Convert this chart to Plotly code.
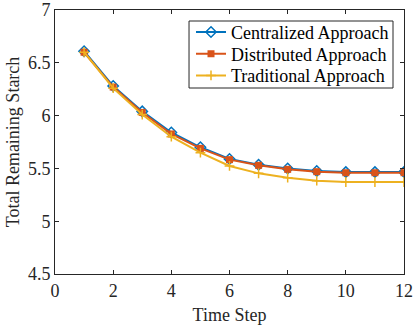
import plotly.graph_objects as go

time_step = [1, 2, 3, 4, 5, 6, 7, 8, 9, 10, 11, 12]
centralized = [6.61, 6.28, 6.04, 5.84, 5.70, 5.59, 5.535, 5.50, 5.475, 5.465, 5.465, 5.465]
distributed = [6.60, 6.27, 6.03, 5.826, 5.69, 5.583, 5.529, 5.491, 5.469, 5.459, 5.459, 5.459]
traditional = [6.60, 6.26, 6.01, 5.80, 5.649, 5.523, 5.453, 5.412, 5.384, 5.371, 5.371, 5.371]

x_ticks = [0, 2, 4, 6, 8, 10, 12]
y_ticks = [4.5, 5, 5.5, 6, 6.5, 7]
y_tick_text = ["4.5", "5", "5.5", "6", "6.5", "7"]

FONT = "Liberation Serif, Times New Roman, serif"
AXIS_COLOR = "#262626"
FS = 18

fig = go.Figure()
fig.add_trace(go.Scatter(
    x=time_step, y=centralized, name="Centralized Approach",
    mode="lines+markers", legend="legend",
    line=dict(color="#0072BD", width=2),
    marker=dict(symbol="diamond-open", size=8, color="#0072BD", line=dict(width=1.5)),
))
fig.add_trace(go.Scatter(
    x=time_step, y=distributed, name="Distributed Approach",
    mode="lines+markers", legend="legend2",
    line=dict(color="#D95319", width=2),
    marker=dict(symbol="square", size=7, color="#D95319"),
))
fig.add_trace(go.Scatter(
    x=time_step, y=traditional, name="Traditional Approach",
    mode="lines+markers", legend="legend3",
    line=dict(color="#EDB120", width=2),
    marker=dict(symbol="cross-thin-open", size=7, color="#EDB120", line=dict(width=1.5, color="#EDB120")),
))

axis_common = dict(
    showline=True, linecolor=AXIS_COLOR, linewidth=1, mirror="ticks",
    ticks="inside", ticklen=4, tickcolor=AXIS_COLOR, tickwidth=1,
    showgrid=False, zeroline=False, automargin=False,
    tickfont=dict(family=FONT, size=FS, color=AXIS_COLOR),
)

fig.update_xaxes(
    range=[0, 12], tickvals=x_ticks,
    title=dict(text="Time Step", font=dict(family=FONT, size=FS, color=AXIS_COLOR), standoff=8),
    **axis_common,
)
fig.update_yaxes(
    range=[4.5, 7], tickvals=y_ticks, ticktext=y_tick_text,
    title=dict(text="Total Remaining Starch", font=dict(family=FONT, size=FS, color=AXIS_COLOR), standoff=3),
    **axis_common,
)

# Legend frame drawn as one box; each trace has its own borderless legend row inside it
box = dict(x0=0.384, x1=0.9685, y0=0.7045, y1=0.9583)
fig.add_shape(type="rect", xref="paper", yref="paper", layer="above",
              line=dict(color="#262626", width=1), fillcolor="white", **box)

legend_style = dict(
    xanchor="left", yanchor="middle", x=0.3897,
    bgcolor="rgba(0,0,0,0)", borderwidth=0,
    font=dict(family=FONT, size=FS, color="black"),
    itemwidth=30,
)
row_y = [0.9155, 0.8333, 0.7511]
fig.update_layout(
    template="none",
    width=413, height=327,
    margin=dict(l=55, r=9, t=10, b=53),
    paper_bgcolor="white", plot_bgcolor="white",
    showlegend=True,
    legend=dict(y=row_y[0], **legend_style),
    legend2=dict(y=row_y[1], **legend_style),
    legend3=dict(y=row_y[2], **legend_style),
)

fig.write_html("out.html")
